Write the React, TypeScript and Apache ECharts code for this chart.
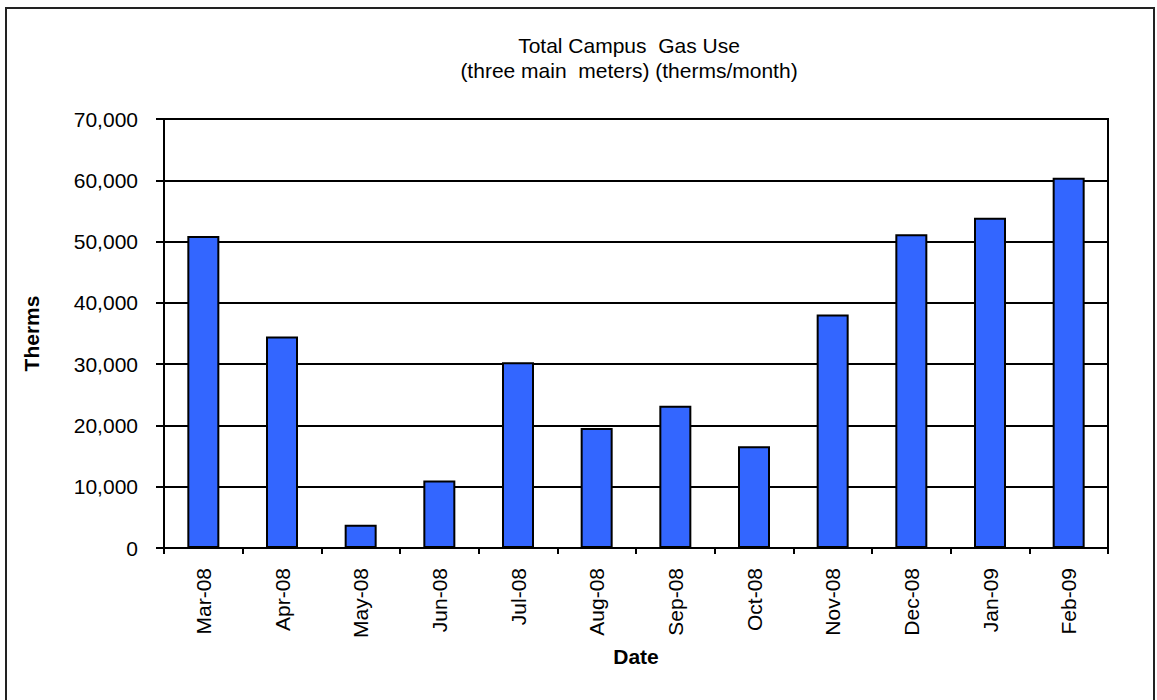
import React, { useEffect, useRef } from "react";
import * as echarts from "echarts";

// Monthly gas use, three main meters combined (therms)
const months = [
  "Mar-08", "Apr-08", "May-08", "Jun-08", "Jul-08", "Aug-08",
  "Sep-08", "Oct-08", "Nov-08", "Dec-08", "Jan-09", "Feb-09",
];
const therms = [
  50900, 34500, 3800, 11000, 30300, 19600,
  23200, 16600, 38100, 51200, 53900, 60400,
];
const titleLines = ["Total Campus  Gas Use", "(three main  meters) (therms/month)"];
const yAxisTitle = "Therms";
const xAxisTitle = "Date";

const FONT = "Liberation Sans, Arial, Helvetica, sans-serif";
const FS = 21;

export default function App() {
  const ref = useRef<HTMLDivElement>(null);

  useEffect(() => {
    if (!ref.current) return;
    const chart = echarts.init(ref.current, null, { renderer: "svg" });
    chart.setOption({
      animation: false,
      backgroundColor: "#ffffff",
      textStyle: { fontFamily: FONT },
      graphic: [
        {
          type: "rect",
          shape: { x: 6, y: 8, width: 1148, height: 710 },
          style: { fill: "none", stroke: "#222222", lineWidth: 2 },
          silent: true,
          z: -1,
        },
        {
          type: "text",
          x: 629,
          y: 45,
          style: {
            text: titleLines[0],
            textAlign: "center",
            textVerticalAlign: "middle",
            font: `${FS}px ${FONT}`,
            fill: "#000",
          },
        },
        {
          type: "text",
          x: 629,
          y: 70,
          style: {
            text: titleLines[1],
            textAlign: "center",
            textVerticalAlign: "middle",
            font: `${FS}px ${FONT}`,
            fill: "#000",
          },
        },
      ],
      grid: {
        left: 164,
        right: 49,
        top: 119,
        bottom: 152,
        show: true,
        borderColor: "#000",
        borderWidth: 2,
        backgroundColor: "transparent",
      },
      xAxis: {
        type: "category",
        data: months,
        name: xAxisTitle,
        nameLocation: "middle",
        nameGap: 98,
        nameTextStyle: { fontSize: FS, fontWeight: "bold", color: "#000", fontFamily: FONT },
        axisLine: { show: true, lineStyle: { color: "#000", width: 2 } },
        axisTick: { show: true, length: 6, alignWithLabel: false, lineStyle: { color: "#000", width: 2 } },
        axisLabel: {
          rotate: 90,
          margin: 20,
          fontSize: FS,
          color: "#000",
          fontFamily: FONT,
          interval: 0,
        },
        splitLine: { show: false },
      },
      yAxis: {
        type: "value",
        min: 0,
        max: 70000,
        interval: 10000,
        name: yAxisTitle,
        nameLocation: "middle",
        nameGap: 122,
        nameTextStyle: { fontSize: FS, fontWeight: "bold", color: "#000", fontFamily: FONT },
        axisLine: { show: true, lineStyle: { color: "#000", width: 2 } },
        axisTick: { show: true, inside: false, length: 8, lineStyle: { color: "#000", width: 2 } },
        axisLabel: {
          margin: 26,
          fontSize: FS,
          color: "#000",
          fontFamily: FONT,
          formatter: (v: number) => v.toLocaleString("en-US"),
        },
        splitLine: { show: true, lineStyle: { color: "#000", width: 1.8 } },
      },
      series: [
        {
          type: "bar",
          data: therms,
          barWidth: 32,
          itemStyle: { color: "#3366ff", borderColor: "#000", borderWidth: 2 },
        },
      ],
    });
    return () => chart.dispose();
  }, []);

  return (
    <div
      ref={ref}
      style={{ position: "fixed", left: 0, top: 0, width: 1157, height: 700 }}
    />
  );
}
